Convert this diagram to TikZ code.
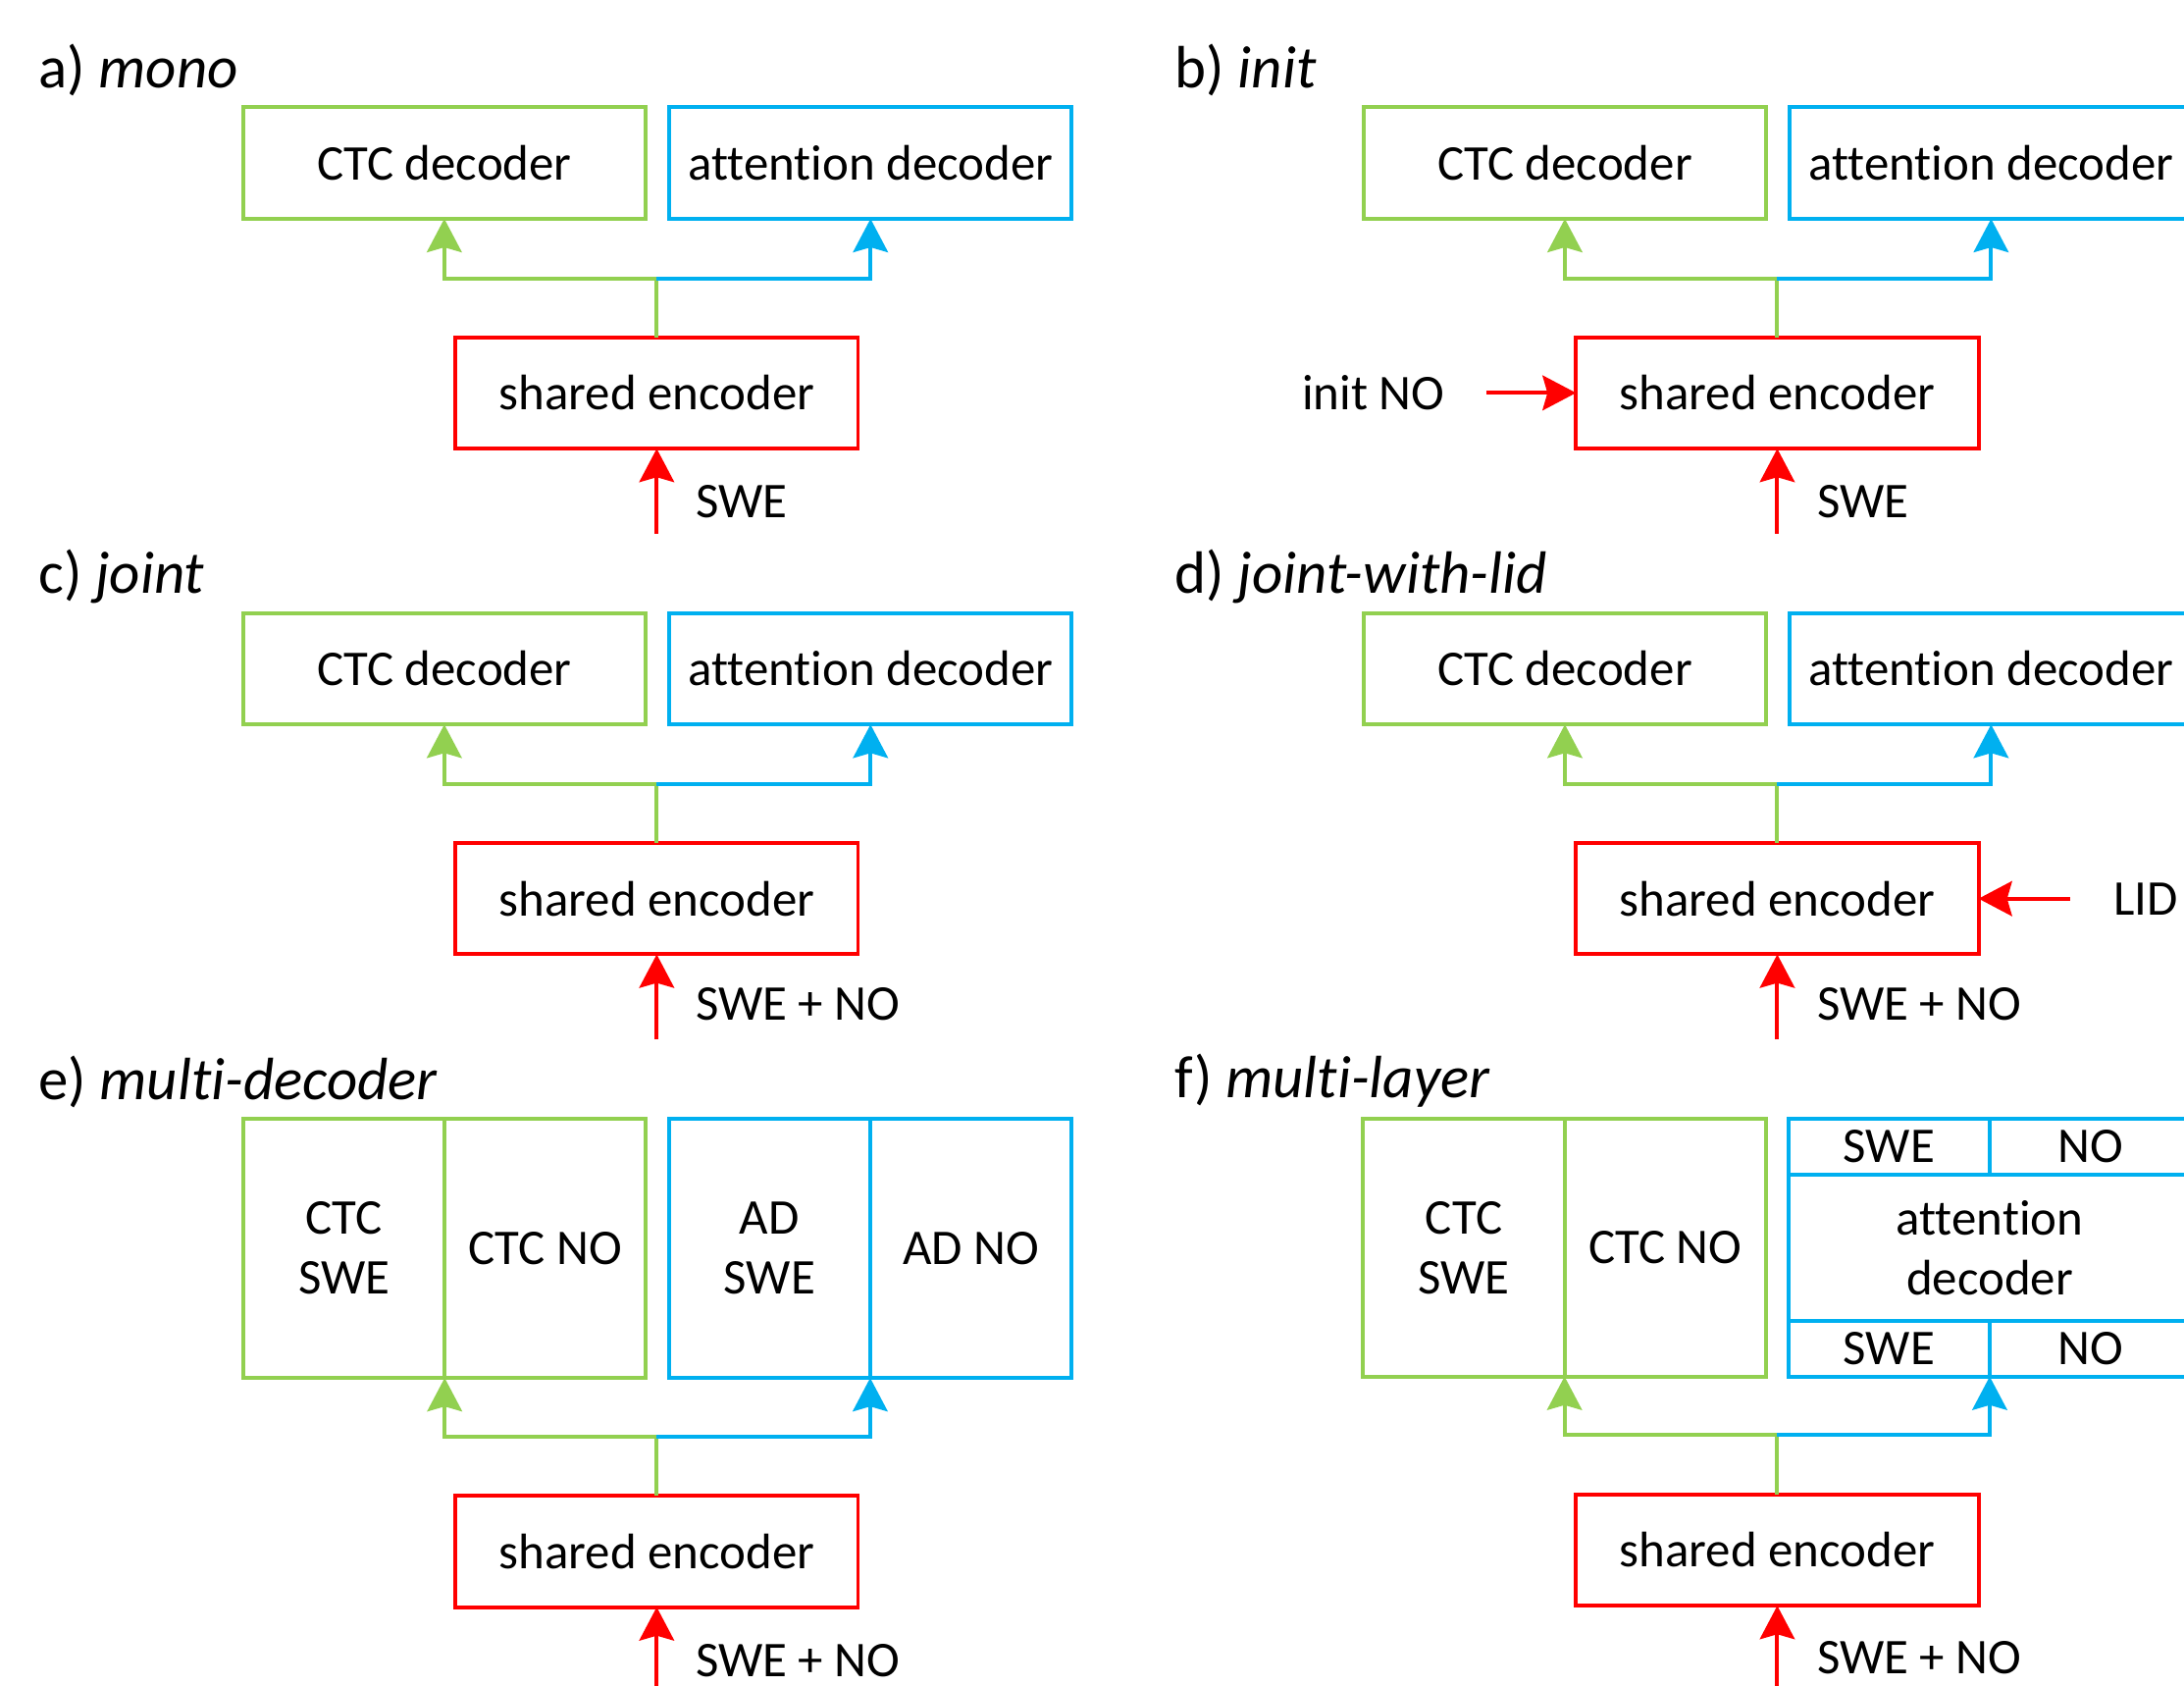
\documentclass[tikz,border=0pt]{standalone}
\usepackage{fontspec}
\setmainfont{Carlito}[Ligatures=NoCommon]
\usetikzlibrary{arrows.meta,positioning}
\definecolor{ctcgreen}{RGB}{146,208,80}
\definecolor{attblue}{RGB}{0,176,240}
\definecolor{encred}{RGB}{255,0,0}
\tikzstyle{box}=[rectangle,line width=0.8pt,minimum width=28.9mm,minimum height=8mm,inner sep=0pt,outer sep=0pt,align=center,font=\fontsize{10.2}{12.2}\selectfont]
\tikzstyle{gbox}=[box,draw=ctcgreen]
\tikzstyle{bbox}=[box,draw=attblue]
\tikzstyle{rbox}=[box,draw=encred]
\tikzstyle{gcell}=[gbox,minimum width=14.45mm,minimum height=18.6mm]
\tikzstyle{bcell}=[bbox,minimum width=14.45mm,minimum height=18.6mm]
\tikzstyle{brow}=[bbox,minimum width=14.45mm,minimum height=4mm]
\tikzstyle{lab}=[inner sep=0pt,font=\fontsize{10.2}{12.2}\selectfont]
\tikzstyle{ttl}=[inner sep=0pt,anchor=base west,font=\fontsize{12.2}{14}\selectfont]
\tikzstyle{tip}=[-{Stealth[length=2.4mm,width=2.5mm,inset=0.35mm]},line width=0.8pt]
\tikzstyle{garr}=[tip,draw=ctcgreen]
\tikzstyle{barr}=[tip,draw=attblue]
\tikzstyle{rarr}=[tip,draw=encred]

\begin{document}
\begin{tikzpicture}[x=0.1mm,y=-0.1mm]
\useasboundingbox (0,0) rectangle (1568,1210);
\clip (0,0) rectangle (1568,1210);

% a) mono
\node[ttl] (a-title) at (27,63) {a) \textit{mono}};
\node[gbox] (a-ctc) at (319,117) {CTC decoder};
\node[bbox, right=1.7mm of a-ctc] (a-att) {attention decoder};
\node[rbox] (a-enc) at (471.5,282) {shared encoder};
\coordinate (a-fork) at (471.5,200);
\coordinate (a-in) at (471.5,383);
\draw[garr] (a-enc.north) -- (a-fork) -| (a-ctc.south);
\draw[barr] (a-fork) -| (a-att.south);
\draw[rarr] (a-in) -- (a-enc.south);
\node[lab, anchor=west] (a-swe) at (499,360) {SWE};

% b) init
\node[ttl] (b-title) at (843,63) {b) \textit{init}};
\node[gbox] (b-ctc) at (1123.5,117) {CTC decoder};
\node[bbox, right=1.7mm of b-ctc] (b-att) {attention decoder};
\node[rbox] (b-enc) at (1276,282) {shared encoder};
\coordinate (b-fork) at (1276,200);
\coordinate (b-in) at (1276,383);
\coordinate (b-side) at (1067,282);
\draw[garr] (b-enc.north) -- (b-fork) -| (b-ctc.south);
\draw[barr] (b-fork) -| (b-att.south);
\draw[rarr] (b-in) -- (b-enc.south);
\draw[rarr] (b-side) -- (b-enc.west);
\node[lab, anchor=west] (b-swe) at (1304,360) {SWE};
\node[lab] (b-no) at (986,282) {init NO};

% c) joint
\node[ttl] (c-title) at (27,426) {c) \textit{joint}};
\node[gbox] (c-ctc) at (319,480) {CTC decoder};
\node[bbox, right=1.7mm of c-ctc] (c-att) {attention decoder};
\node[rbox] (c-enc) at (471.5,645) {shared encoder};
\coordinate (c-fork) at (471.5,563);
\coordinate (c-in) at (471.5,746);
\draw[garr] (c-enc.north) -- (c-fork) -| (c-ctc.south);
\draw[barr] (c-fork) -| (c-att.south);
\draw[rarr] (c-in) -- (c-enc.south);
\node[lab, anchor=west] (c-swe) at (499,721) {SWE + NO};

% d) joint-with-lid
\node[ttl] (d-title) at (843,426) {d) \textit{joint-with-lid}};
\node[gbox] (d-ctc) at (1123.5,480) {CTC decoder};
\node[bbox, right=1.7mm of d-ctc] (d-att) {attention decoder};
\node[rbox] (d-enc) at (1276,645) {shared encoder};
\coordinate (d-fork) at (1276,563);
\coordinate (d-in) at (1276,746);
\coordinate (d-side) at (1486,645);
\draw[garr] (d-enc.north) -- (d-fork) -| (d-ctc.south);
\draw[barr] (d-fork) -| (d-att.south);
\draw[rarr] (d-in) -- (d-enc.south);
\draw[rarr] (d-side) -- (d-enc.east);
\node[lab, anchor=west] (d-swe) at (1304,721) {SWE + NO};
\node[lab, anchor=west] (d-lid) at (1517,645) {LID};

% e) multi-decoder
\node[ttl] (e-title) at (27,789) {e) \textit{multi-decoder}};
\node[gcell] (e-ctcswe) at (247,896) {CTC\\SWE};
\node[gcell, right=0mm of e-ctcswe] (e-ctcno) {CTC NO};
\node[bcell] (e-adswe) at (552.5,896) {AD\\SWE};
\node[bcell, right=0mm of e-adswe] (e-adno) {AD NO};
\node[rbox] (e-enc) at (471.5,1113.5) {shared encoder};
\coordinate (e-fork) at (471.5,1031);
\coordinate (e-in) at (471.5,1215);
\draw[garr] (e-enc.north) -- (e-fork) -| (e-ctcswe.south east);
\draw[barr] (e-fork) -| (e-adswe.south east);
\draw[rarr] (e-in) -- (e-enc.south);
\node[lab, anchor=west] (e-swe) at (499,1192) {SWE + NO};

% f) multi-layer
\node[ttl] (f-title) at (843,788) {f) \textit{multi-layer}};
\node[gcell, minimum height=18.5mm] (f-ctcswe) at (1051,895.5) {CTC\\SWE};
\node[gcell, minimum height=18.5mm, right=0mm of f-ctcswe] (f-ctcno) {CTC NO};
\node[bbox, minimum height=18.5mm] (f-att) at (1428.5,895.5) {};
\node[brow, anchor=north west] (f-swe1) at (f-att.north west) {SWE};
\node[brow, right=0mm of f-swe1] (f-no1) {NO};
\node[brow, anchor=south west] (f-swe2) at (f-att.south west) {SWE};
\node[brow, right=0mm of f-swe2] (f-no2) {NO};
\node[lab, align=center] (f-attlab) at (f-att) {attention\\decoder};
\node[rbox] (f-enc) at (1276,1112.5) {shared encoder};
\coordinate (f-fork) at (1276,1030);
\coordinate (f-in) at (1276,1215);
\draw[garr] (f-enc.north) -- (f-fork) -| (f-ctcswe.south east);
\draw[barr] (f-fork) -| (f-swe2.south east);
\draw[rarr] (f-in) -- (f-enc.south);
\node[lab, anchor=west] (f-swe) at (1304,1190) {SWE + NO};
\end{tikzpicture}
\end{document}
